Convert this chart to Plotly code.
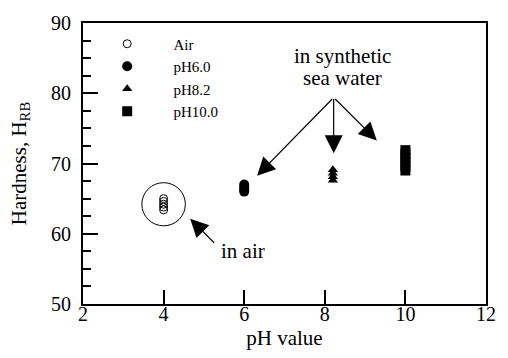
import plotly.graph_objects as go

# Data
air_x = [4, 4, 4, 4, 4]
air_y = [63.4, 63.8, 64.2, 64.6, 65.0]
ph6_x = [6, 6, 6, 6]
ph6_y = [66.0, 66.3, 66.6, 67.0]
ph82_x = [8.2, 8.2, 8.2, 8.2]
ph82_y = [67.6, 68.1, 68.6, 69.1]
ph10_x = [10, 10, 10, 10, 10, 10]
ph10_y = [69.0, 69.6, 70.2, 70.8, 71.4, 71.9]
legend_names = ["Air", "pH6.0", "pH8.2", "pH10.0"]

FONT = "Liberation Serif"
PAD = "\u00a0" * 7

fig = go.Figure()
fig.add_trace(go.Scatter(x=air_x, y=air_y, mode="markers", name=PAD + legend_names[0],
                         marker=dict(symbol="circle-open", size=8, color="black", line=dict(width=1))))
fig.add_trace(go.Scatter(x=ph6_x, y=ph6_y, mode="markers", name=PAD + legend_names[1],
                         marker=dict(symbol="circle", size=10, color="black")))
fig.add_trace(go.Scatter(x=ph82_x, y=ph82_y, mode="markers", name=PAD + legend_names[2],
                         marker=dict(symbol="triangle-up", size=9, color="black")))
fig.add_trace(go.Scatter(x=ph10_x, y=ph10_y, mode="markers", name=PAD + legend_names[3],
                         marker=dict(symbol="square", size=10, color="black")))

# circle around air data
fig.add_shape(type="circle", xref="x", yref="y",
              x0=4 - 0.54, x1=4 + 0.54, y0=64.2 - 3.07, y1=64.2 + 3.07,
              line=dict(color="black", width=1))

# arrows
src = (8.22, 79.4)
tips = [(6.32, 68.26), (8.22, 71.46), (9.29, 73.28)]
for tx, ty in tips:
    fig.add_annotation(x=tx, y=ty, ax=src[0], ay=src[1], axref="x", ayref="y",
                       xref="x", yref="y", text="", showarrow=True,
                       arrowhead=2, arrowsize=3, arrowwidth=1.2, arrowcolor="black")
fig.add_annotation(x=4.66, y=62.13, ax=5.29, ay=58.5, axref="x", ayref="y",
                   xref="x", yref="y", text="", showarrow=True,
                   arrowhead=2, arrowsize=3, arrowwidth=1.2, arrowcolor="black")

fig.add_annotation(x=8.44, y=85.3, xref="x", yref="y", text="in synthetic",
                   showarrow=False, font=dict(family=FONT, size=21, color="black"))
fig.add_annotation(x=8.44, y=82.2, xref="x", yref="y", text="sea water",
                   showarrow=False, font=dict(family=FONT, size=21, color="black"))
fig.add_annotation(x=5.98, y=57.5, xref="x", yref="y", text="in air",
                   showarrow=False, font=dict(family=FONT, size=21, color="black"))

fig.update_layout(
    width=508, height=358,
    margin=dict(l=83, r=15, t=17, b=54),
    paper_bgcolor="white", plot_bgcolor="white",
    font=dict(family=FONT, size=20, color="black"),
    showlegend=True,
    legend=dict(x=0.06, y=0.984, xanchor="left", yanchor="top",
                bgcolor="rgba(0,0,0,0)", font=dict(family=FONT, size=15, color="black"),
                itemsizing="trace"),
    xaxis=dict(range=[2, 12], tickvals=[2, 4, 6, 8, 10, 12], ticks="inside", ticklen=14,
               tickwidth=2, tickcolor="black", showline=True, linewidth=2, linecolor="black",
               mirror=True, showgrid=False, zeroline=False, ticklabelstandoff=-9,
               tickfont=dict(family=FONT, size=20, color="black"),
               title=dict(text="pH value", standoff=6, font=dict(family=FONT, size=21, color="black"))),
    yaxis=dict(range=[50, 90], tickvals=[50, 60, 70, 80, 90], ticks="inside", ticklen=15,
               tickwidth=2, tickcolor="black", showline=True, linewidth=2, linecolor="black",
               mirror=True, showgrid=False, zeroline=False, ticklabelstandoff=6,
               tickfont=dict(family=FONT, size=20, color="black"),
               minor=dict(dtick=2.5, ticks="inside", ticklen=8, tickwidth=2, tickcolor="black", showgrid=False),
               title=dict(text="Hardness, H<sub>RB</sub>", standoff=19, font=dict(family=FONT, size=21, color="black"))),
)

fig.write_html("out.html")
